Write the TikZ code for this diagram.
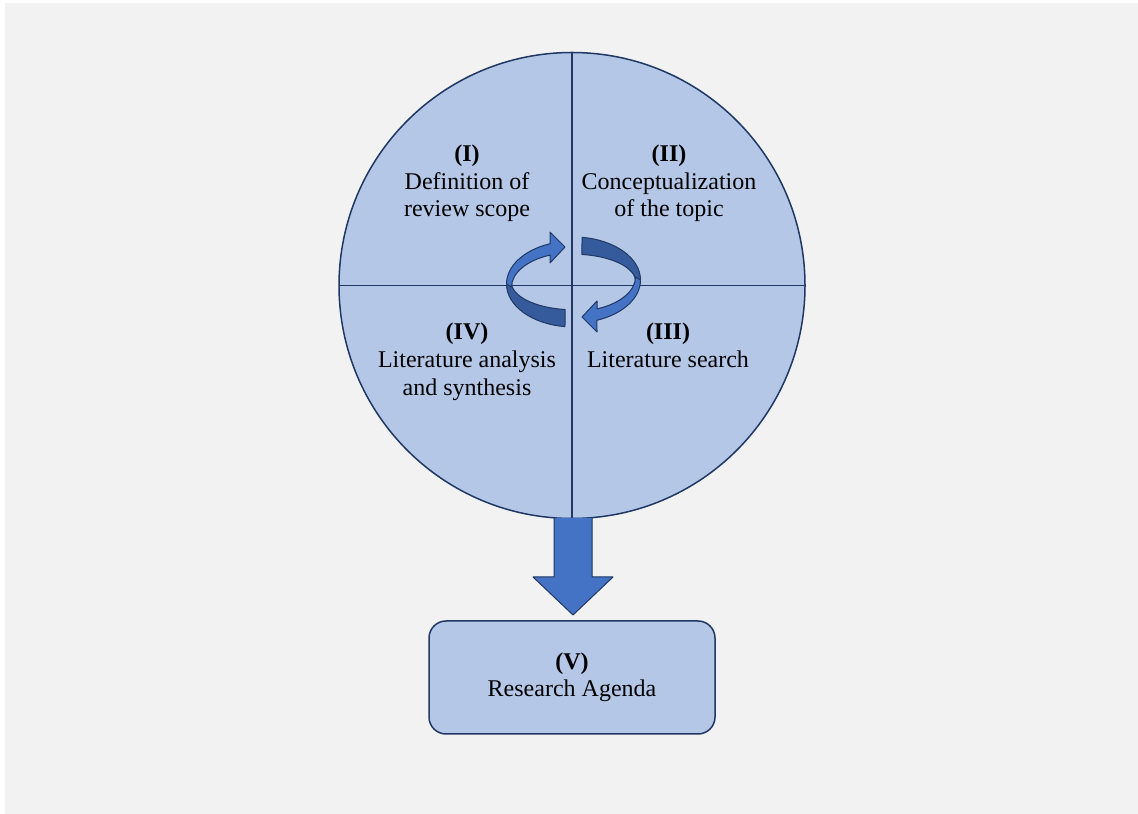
\documentclass[tikz,border=0pt]{standalone}
\usepackage{fontspec}
\setmainfont{Liberation Serif}
\usetikzlibrary{calc}
\definecolor{bgGray}{HTML}{F2F2F2}
\definecolor{paleBlue}{HTML}{B4C7E7}
\definecolor{navy}{HTML}{1F3864}
\definecolor{arrowBlue}{HTML}{4472C4}
\definecolor{arrowDark}{HTML}{365B9D}
\begin{document}
\begin{tikzpicture}[x=1pt,y=1pt,
  lbl/.style={anchor=base, inner sep=0pt, font=\fontsize{24}{28}\selectfont},
  panel/.style={draw=navy, fill=paleBlue, line width=1.5pt, inner sep=0pt, outer sep=0pt},
  divider/.style={draw=navy, line width=1.5pt},
  ribbonlight/.style={draw=navy, fill=arrowBlue, line width=1pt, line join=round},
  ribbondark/.style={draw=navy, fill=arrowDark, line width=1pt, line join=round},
  cyclehalf/.pic={
    % back face of the ribbon (tail end)
    \filldraw[ribbondark] (-67,-2)
      arc[start angle=180, end angle=262.7, x radius=67, y radius=43]
      -- (-8.46,-27.5)
      arc[start angle=262.4, end angle=180, x radius=62, y radius=27.7]
      -- cycle;
    % front face with the arrow head
    \filldraw[ribbonlight] (-67,-2)
      arc[start angle=180, end angle=110.5, x radius=67, y radius=43]
      -- (-23.5,50) -- (-8.5,35) -- (-23.5,19) -- (-23.5,26.9)
      arc[start angle=112.3, end angle=180, x radius=62, y radius=34.5]
      -- cycle;
  }]
\useasboundingbox (0,0) rectangle (1138,814);
\fill[white] (0,0) rectangle (1138,814);
\fill[bgGray] (5,0) rectangle (1138,811);

% the four-phase disc
\node[panel, circle, minimum size=466pt] (disc) at (572,528.5) {};
\draw[divider] (disc.north) -- (disc.south);
\draw[divider] (disc.west) -- (disc.east);

% outcome box
\node[panel, rounded corners=17pt, minimum width=286pt, minimum height=113pt] (agenda) at (572,136.5) {};

% block arrow from the disc down to the box
\coordinate (tip) at ($(agenda.north)+(1,6)$);
\fill[arrowBlue] ($(disc.south)+(-18,0.5)$) -- ($(tip)+(-19,38)$) -- ($(tip)+(-40,38)$) -- (tip)
  -- ($(tip)+(40,38)$) -- ($(tip)+(19,38)$) -- ($(disc.south)+(20,0.5)$) -- cycle;
\draw[navy, line width=1pt, line join=round] ($(disc.south)+(-18,0.5)$) -- ($(tip)+(-19,38)$) -- ($(tip)+(-40,38)$) -- (tip)
  -- ($(tip)+(40,38)$) -- ($(tip)+(19,38)$) -- ($(disc.south)+(20,0.5)$);

% circular arrows in the middle
\pic at (573.5,532) {cyclehalf};
\pic[rotate=180] at (573.5,532) {cyclehalf};

% quadrant texts
\node[lbl] (q1a) at (467,652) {\textbf{(I)}};
\node[lbl] (q1b) at (467,624.5) {Definition of};
\node[lbl] (q1c) at (467,597) {review scope};

\node[lbl] (q2a) at (669,652) {\textbf{(II)}};
\node[lbl] (q2b) at (669,624.5) {Conceptualization};
\node[lbl] (q2c) at (669,597) {of the topic};

\node[lbl] (q3a) at (668,474) {\textbf{(III)}};
\node[lbl] (q3b) at (668,446) {Literature search};

\node[lbl] (q4a) at (467,474) {\textbf{(IV)}};
\node[lbl] (q4b) at (467,446) {Literature analysis};
\node[lbl] (q4c) at (467,418) {and synthesis};

\node[lbl] (q5a) at (572,144) {\textbf{(V)}};
\node[lbl] (q5b) at (572,117) {Research Agenda};
\end{tikzpicture}
\end{document}
